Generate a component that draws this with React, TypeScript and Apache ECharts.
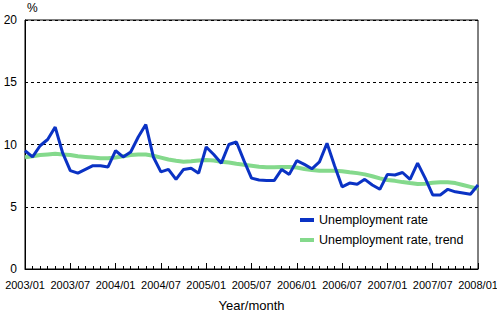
import React, { useEffect, useRef } from "react";
import * as echarts from "echarts";

const years = ["2003", "2004", "2005", "2006", "2007"];
const months = ["01", "02", "03", "04", "05", "06", "07", "08", "09", "10", "11", "12"];
const categories: string[] = [];
years.forEach((y) => months.forEach((m) => categories.push(`${y}/${m}`)));
categories.push("2008/01");

const unemploymentRate = [
  9.5, 9.0, 9.9, 10.4, 11.4, 9.3, 7.9, 7.7, 8.0, 8.3, 8.3, 8.2,
  9.5, 9.0, 9.4, 10.6, 11.6, 9.0, 7.8, 8.0, 7.2, 8.0, 8.1, 7.7,
  9.8, 9.2, 8.5, 10.0, 10.2, 8.7, 7.3, 7.15, 7.1, 7.1, 8.0, 7.6,
  8.7, 8.4, 8.05, 8.6, 10.1, 8.3, 6.6, 6.9, 6.8, 7.2, 6.75, 6.4,
  7.6, 7.55, 7.75, 7.2, 8.5, 7.3, 5.95, 5.95, 6.4, 6.2, 6.1, 6.0,
  6.75,
];

const unemploymentTrend = [
  8.97, 9.05, 9.15, 9.2, 9.25, 9.2, 9.15, 9.05, 9.0, 8.95, 8.9, 8.9,
  8.95, 9.05, 9.15, 9.2, 9.2, 9.1, 8.95, 8.8, 8.7, 8.62, 8.65, 8.72,
  8.75, 8.72, 8.62, 8.55, 8.45, 8.38, 8.3, 8.22, 8.18, 8.17, 8.2, 8.2,
  8.15, 8.03, 7.95, 7.9, 7.9, 7.9, 7.85, 7.77, 7.7, 7.6, 7.45, 7.28,
  7.15, 7.08, 6.98, 6.9, 6.83, 6.85, 6.93, 6.96, 6.96, 6.9, 6.75, 6.6,
  6.45,
];

const yTicks = { min: 0, max: 20, interval: 5 };
const seriesNames = ["Unemployment rate", "Unemployment rate, trend"];
const FONT = "'Liberation Sans', Arial, sans-serif";
const BLUE = "#0a32c4";
const GREEN = "#84d98c";

export default function App() {
  const ref = useRef<HTMLDivElement>(null);
  useEffect(() => {
    if (!ref.current) return;
    const chart = echarts.init(ref.current, null, { renderer: "svg" });
    chart.setOption({
      animation: false,
      textStyle: { fontFamily: FONT },
      grid: {
        left: 25,
        right: 19,
        top: 20,
        bottom: 43,
        show: true,
        borderColor: "#000",
        borderWidth: 1,
        containLabel: false,
        outerBoundsMode: "none",
      },
      graphic: [
        {
          type: "text",
          left: 27,
          top: 2,
          style: { text: "%", fontSize: 12, fill: "#000", fontFamily: FONT },
        },
      ],
      legend: {
        orient: "vertical",
        left: 295,
        top: 208,
        padding: 5,
        itemWidth: 14,
        itemHeight: 4,
        itemGap: 6,
        icon: "rect",
        textStyle: { fontSize: 12.5, color: "#000", lineHeight: 14, fontFamily: FONT },
        data: seriesNames,
      },
      xAxis: [
        {
          type: "category",
          data: categories,
          boundaryGap: false,
          name: "Year/month",
          nameLocation: "middle",
          nameGap: 30,
          nameTextStyle: { fontSize: 13, color: "#000", fontFamily: FONT },
          axisLine: { show: true, lineStyle: { color: "#000", width: 1 } },
          axisTick: { show: true, interval: 0, inside: true, length: 3, lineStyle: { color: "#000" } },
          axisLabel: { interval: 5, fontSize: 11, color: "#000", margin: 10, fontFamily: FONT },
          splitLine: { show: false },
        },
        {
          type: "category",
          data: categories,
          boundaryGap: false,
          position: "bottom",
          axisLine: { show: false },
          axisTick: { show: true, interval: 5, inside: true, length: 6, lineStyle: { color: "#000" } },
          axisLabel: { show: false },
          splitLine: { show: false },
        },
      ],
      yAxis: {
        type: "value",
        min: yTicks.min,
        max: yTicks.max,
        interval: yTicks.interval,
        axisLine: { show: true, lineStyle: { color: "#000", width: 1 } },
        axisTick: { show: false },
        axisLabel: { fontSize: 12, color: "#000", margin: 8, fontFamily: FONT },
        splitLine: { show: true, lineStyle: { color: "#000", type: [3, 3], width: 1 } },
      },
      series: [
        {
          name: seriesNames[0],
          type: "line",
          data: unemploymentRate,
          xAxisIndex: 0,
          showSymbol: false,
          symbol: "none",
          z: 3,
          itemStyle: { color: BLUE },
          lineStyle: { color: BLUE, width: 3 },
        },
        {
          name: seriesNames[1],
          type: "line",
          data: unemploymentTrend,
          xAxisIndex: 0,
          showSymbol: false,
          symbol: "none",
          z: 2,
          itemStyle: { color: GREEN },
          lineStyle: { color: GREEN, width: 4 },
        },
      ],
    });
    return () => chart.dispose();
  }, []);
  return <div ref={ref} style={{ width: 497, height: 312, position: "absolute", left: 0, top: 0 }} />;
}
